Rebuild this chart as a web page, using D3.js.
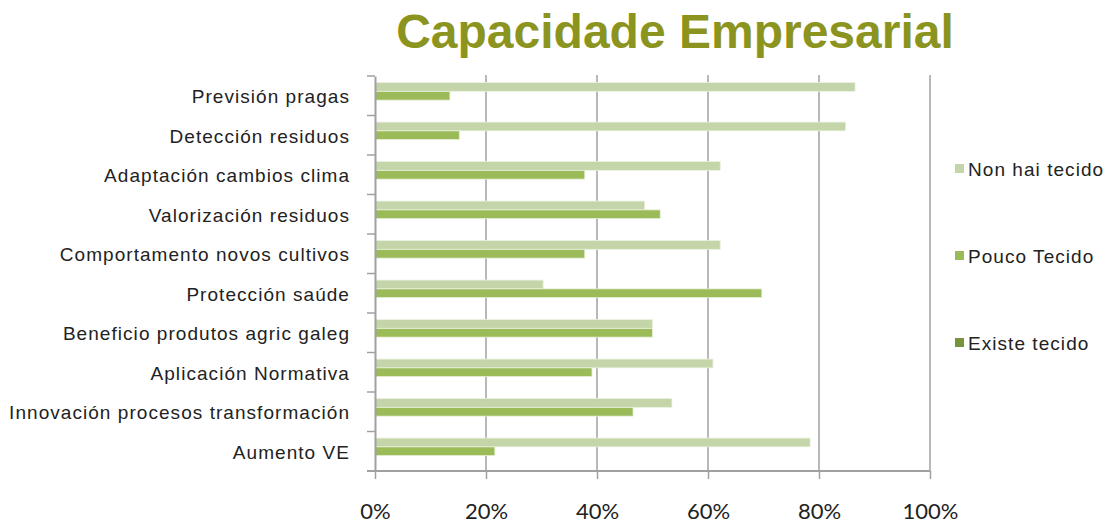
<!DOCTYPE html>
<html>
<head>
<meta charset="utf-8">
<script src="https://cdn.jsdelivr.net/npm/d3@7"></script>
<style>
  body { margin: 0; background: #fff; }
  svg { display: block; }
</style>
</head>
<body>
<div id="corpo"></div>
<script>
// categorias (de arriba a abaixo)
var categorias = ["Previsión pragas", "Detección residuos", "Adaptación cambios clima",
  "Valorización residuos", "Comportamento novos cultivos", "Protección saúde",
  "Beneficio produtos agric galeg", "Aplicación Normativa",
  "Innovación procesos transformación", "Aumento VE "];

// series (porcentaxes)
var nonHaiTecido = [86.5, 84.8, 62.2, 48.6, 62.2, 30.3, 50.0, 60.9, 53.5, 78.4];
var poucoTecido  = [13.5, 15.2, 37.8, 51.4, 37.8, 69.7, 50.0, 39.1, 46.5, 21.6];
var existeTecido = [0, 0, 0, 0, 0, 0, 0, 0, 0, 0];

var seriesNames = ["Non hai tecido", "Pouco Tecido", "Existe tecido"];
var ticks = [0, 20, 40, 60, 80, 100];

var width = 1110, height = 523;
var svg = d3.select("#corpo").append("svg")
  .attr("width", width)
  .attr("height", height);

/* cores */
var cores = ["#c4d6a9", "#9bbb59", "#77933c"];

var fonteTexto = "Liberation Sans, Arial, sans-serif";

/* escalas */
var x = d3.scaleLinear().domain([0, 100]).range([375, 930]);
var y = d3.scaleBand().domain(categorias).range([76, 471]);
var ySub = d3.scaleBand().domain(seriesNames).range([0, y.bandwidth()])
  .paddingInner(0).paddingOuter(0.75);

// título
svg.append("text")
  .attr("x", 675)
  .attr("y", 48)
  .attr("text-anchor", "middle")
  .attr("font-family", fonteTexto)
  .attr("font-weight", "bold")
  .attr("font-size", 48)
  .attr("fill", "#8c9420")
  .text("Capacidade Empresarial");

// grella vertical
svg.append("g")
  .selectAll("line")
  .data(ticks.slice(1))
  .enter().append("line")
  .attr("x1", function(d) { return x(d); })
  .attr("x2", function(d) { return x(d); })
  .attr("y1", 75)
  .attr("y2", 471)
  .attr("stroke", "#a0a0a0")
  .attr("stroke-width", 1.5);

// barras
var datos = categorias.map(function(c, i) {
  return { cat: c, vals: [nonHaiTecido[i], poucoTecido[i], existeTecido[i]] };
});

var grupo = svg.append("g").selectAll("g")
  .data(datos)
  .enter().append("g")
  .attr("transform", function(d) { return "translate(0," + y(d.cat) + ")"; });

grupo.selectAll("rect")
  .data(function(d) { return d.vals.map(function(v, j) { return { v: v, s: seriesNames[j], j: j }; }); })
  .enter().append("rect")
  .filter(function(d) { return d.v > 0; })
  .attr("x", x(0))
  .attr("y", function(d) { return ySub(d.s); })
  .attr("width", function(d) { return x(d.v) - x(0); })
  .attr("height", ySub.bandwidth())
  .attr("fill", function(d) { return cores[d.j]; })
  .attr("stroke", "#eaf1df")
  .attr("stroke-width", 0.8);

// eixo Y
var eixoY = d3.axisLeft(y).tickSize(0).tickPadding(25);
var gy = svg.append("g").attr("transform", "translate(" + x(0) + ",0)").call(eixoY);
gy.select(".domain").attr("stroke", "#a0a0a0").attr("stroke-width", 2);
gy.selectAll("text")
  .attr("font-family", fonteTexto)
  .attr("font-size", 19)
  .attr("letter-spacing", 1.05)
  .attr("fill", "#222")
  .attr("dy", "0.4em");

// marcas entre categorías
svg.append("g").selectAll("line")
  .data(categorias.concat(["fin"]))
  .enter().append("line")
  .attr("x1", 367)
  .attr("x2", x(0))
  .attr("y1", function(d, i) { return i < categorias.length ? y(d) : y.range()[1]; })
  .attr("y2", function(d, i) { return i < categorias.length ? y(d) : y.range()[1]; })
  .attr("stroke", "#a0a0a0")
  .attr("stroke-width", 1.5);

// eixo X
var eixoX = d3.axisBottom(x).tickValues(ticks).tickSize(8).tickPadding(24)
  .tickFormat(function(d) { return d + "%"; });
var gx = svg.append("g").attr("transform", "translate(0,471)").call(eixoX);
gx.select(".domain").remove();
gx.append("line")
  .attr("x1", 367).attr("x2", 930)
  .attr("y1", 0).attr("y2", 0)
  .attr("stroke", "#a0a0a0").attr("stroke-width", 2);
gx.selectAll(".tick line").attr("stroke", "#a0a0a0").attr("stroke-width", 1.5);
gx.selectAll("text")
  .attr("font-family", "Lato, Carlito, Calibri, sans-serif")
  .attr("font-size", 22)
  .attr("fill", "#222");

// lenda
var lenda = svg.append("g").selectAll("g")
  .data(seriesNames)
  .enter().append("g")
  .attr("transform", function(d, i) { return "translate(955," + (176 + i * 87) + ")"; });

lenda.append("rect")
  .attr("x", 0).attr("y", -12)
  .attr("width", 9).attr("height", 9)
  .attr("fill", function(d, i) { return cores[i]; });

lenda.append("text")
  .attr("x", 13)
  .attr("y", 0)
  .attr("font-family", fonteTexto)
  .attr("font-size", 19)
  .attr("letter-spacing", 1.05)
  .attr("fill", "#222")
  .text(function(d) { return d; });
</script>
</body>
</html>
